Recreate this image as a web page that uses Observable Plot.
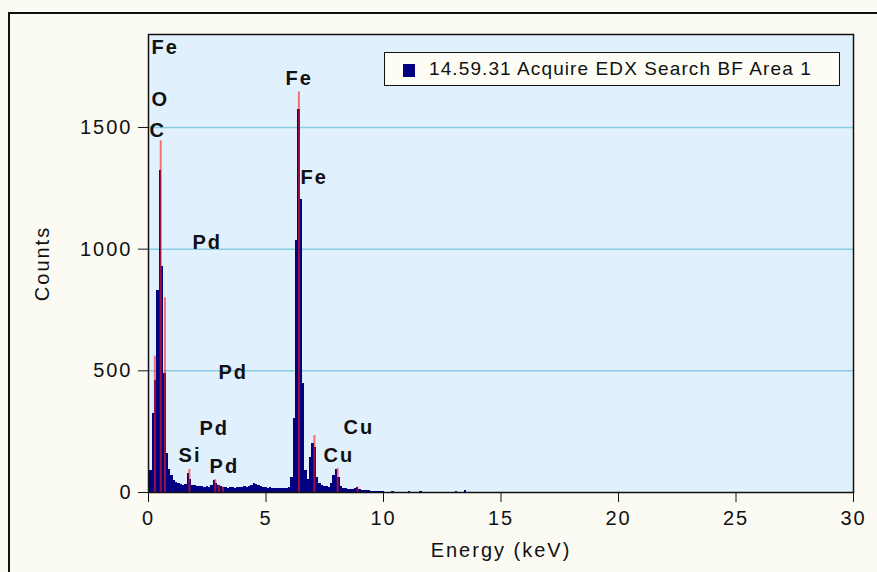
<!DOCTYPE html>
<html><head><meta charset="utf-8">
<script src="https://cdn.jsdelivr.net/npm/d3@7"></script>
<script src="https://cdn.jsdelivr.net/npm/@observablehq/plot@0.6"></script>
<style>
html,body{margin:0;padding:0;background:#fbfbf4;}
#wrap{position:relative;width:877px;height:572px;overflow:hidden;}
#border{position:absolute;left:8px;top:12px;width:900px;height:600px;border:2px solid #111;}
#chart{position:absolute;left:0;top:0;}
#legend{position:absolute;left:384px;top:52px;width:454px;height:32px;border:1px solid #111;background:#fdfdf6;
  font-family:"Liberation Sans",Arial,sans-serif;font-size:19px;letter-spacing:1.1px;color:#111;}
#legend .sw{position:absolute;left:18px;top:11px;width:12px;height:13px;background:#000080;}
#legend .tx{position:absolute;left:44px;top:5px;white-space:nowrap;}
</style></head><body>
<div id="wrap"><div id="border"></div><div id="chart"></div><div id="legend"><span class="sw"></span><span class="tx"></span></div></div>
<script>
// Spectrum channels (keV) and counts
const energies = [0.1,0.2,0.3,0.4,0.5,0.6,0.7,0.8,0.9,1.0,
1.1,1.2,1.3,1.4,1.5,1.6,1.7,1.8,1.9,2.0,
2.1,2.2,2.3,2.4,2.5,2.6,2.7,2.8,2.9,3.0,
3.1,3.2,3.3,3.4,3.5,3.6,3.7,3.8,3.9,4.0,
4.1,4.2,4.3,4.4,4.5,4.6,4.7,4.8,4.9,5.0,
5.1,5.2,5.3,5.4,5.5,5.6,5.7,5.8,5.9,6.0,
6.1,6.2,6.3,6.4,6.5,6.6,6.7,6.8,6.9,7.0,
7.1,7.2,7.3,7.4,7.5,7.6,7.7,7.8,7.9,8.0,
8.1,8.2,8.3,8.4,8.5,8.6,8.7,8.8,8.9,9.0,
9.1,9.2,9.3,9.4,9.5,9.6,9.7,9.8,9.9,10.0,
10.4,11.1,11.6,13.1,13.5];
const counts = [90,325,460,830,1325,930,490,160,95,70,
50,40,35,32,30,34,78,55,30,28,
25,24,26,22,24,22,30,48,36,28,
24,20,22,18,20,22,18,20,22,20,
24,22,26,30,38,34,28,24,22,20,
18,20,17,18,16,18,15,17,16,20,
60,304,1037,1572,1202,448,90,55,144,200,
185,60,35,30,26,24,22,35,70,95,
60,25,18,15,14,12,14,18,20,14,
10,9,8,7,6,6,5,4,4,3,
6,5,5,6,7];
const channelHalfWidth = 0.05;

// Element marker lines (keV) and their heights (counts)
const lineEnergies = [0.27,0.52,0.70,1.74,2.84,2.99,3.17,6.40,7.06,8.05,8.90];
const lineHeights  = [560,1445,800,95,53,30,22,1646,234,99,22];

// Element labels
const labelText = ["Fe","O","C","Pd","Fe","Fe","Pd","Pd","Si","Pd","Cu","Cu"];
const labelE    = [0.13,0.13,0.04,1.87,5.83,6.47,2.98,2.17,1.28,2.60,8.30,7.45];
const labelC    = [1829,1615,1488,1027,1701,1294,493,263,152,107,267,152];

const xTicks = [0,5,10,15,20,25,30];
const yTicks = [0,500,1000,1500];
const gridY = [500,1000,1500];
const seriesName = "14.59.31 Acquire EDX Search BF Area 1";

const spectrum = energies.map((e,i)=>({e, c: counts[i]}));
const lines = lineEnergies.map((e,i)=>({e, h: lineHeights[i]}));
const labels = labelText.map((t,i)=>({t, e: labelE[i], c: labelC[i]}));

const plot = Plot.plot({
  width: 877, height: 572,
  marginLeft: 148, marginRight: 24, marginTop: 34, marginBottom: 80,
  style: {background: "transparent", fontFamily: "Liberation Sans, Arial, sans-serif", fontSize: "20px", color: "#111", letterSpacing: "2px"},
  x: {domain: [0,30], ticks: xTicks, tickFormat: d3.format("d"), tickSize: 10, tickPadding: 8, label: "Energy (keV)", labelAnchor: "center", labelOffset: 64, labelArrow: false},
  y: {domain: [0,1882], ticks: yTicks, tickFormat: d3.format("d"), tickSize: 10, tickPadding: 6, label: "Counts", labelAnchor: "center", labelOffset: 114, labelArrow: false},
  marks: [
    Plot.frame({fill: "#e0f0fc", stroke: null}),
    Plot.ruleY(gridY, {stroke: "#86cde4", strokeWidth: 1.5}),
    Plot.rect(spectrum, {x1: d=>d.e-channelHalfWidth, x2: d=>d.e+channelHalfWidth, y1: 0, y2: "c", fill: "#000080", shapeRendering: "crispEdges"}),
    Plot.ruleX(lines, {x: "e", y1: 0, y2: "h", stroke: "#ff1a1a", strokeOpacity: 0.6, strokeWidth: 2}),
    Plot.text(labels, {x: "e", y: "c", text: "t", textAnchor: "start", fontWeight: "bold", fontSize: 20, fill: "#111"}),
    Plot.frame({stroke: "#111", strokeWidth: 1.5})
  ]
});
document.getElementById("chart").appendChild(plot);
document.querySelector("#legend .tx").textContent = seriesName;
</script>
</body></html>
